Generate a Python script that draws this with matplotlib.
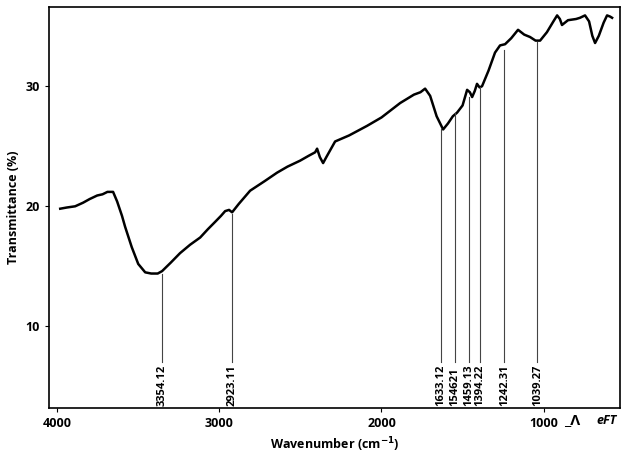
import matplotlib
matplotlib.use("Agg")
import matplotlib.pyplot as plt

plt.rcParams['font.family'] = ['Open Sans', 'DejaVu Sans']

# spectrum (wavenumber, transmittance %)
wavenumber = [3981, 3940, 3889, 3840, 3800, 3753, 3720, 3690, 3655, 3630,
              3600, 3581, 3540, 3500, 3457, 3420, 3380, 3353, 3300, 3242,
              3180, 3118, 3070, 3026, 2990, 2964, 2940, 2921, 2880, 2810,
              2720, 2644, 2580, 2502, 2450, 2409, 2397, 2380, 2360, 2340,
              2286, 2200, 2089, 2000, 1885, 1800, 1760, 1731, 1700, 1660,
              1620, 1590, 1560, 1534, 1500, 1472, 1455, 1441, 1425, 1411,
              1395, 1380, 1340, 1300, 1269, 1238, 1200, 1158, 1120, 1084,
              1050, 1022, 980, 940, 917, 900, 887, 850, 800, 776,
              745, 720, 700, 683, 660, 630, 609, 590, 578]
transmittance = [19.8, 19.9, 20.0, 20.3, 20.6, 20.9, 21.0, 21.2, 21.2, 20.4,
                 19.2, 18.3, 16.6, 15.2, 14.5, 14.4, 14.4, 14.6, 15.3, 16.1,
                 16.8, 17.4, 18.1, 18.7, 19.2, 19.6, 19.7, 19.5, 20.2, 21.3,
                 22.1, 22.8, 23.3, 23.8, 24.2, 24.5, 24.8, 24.1, 23.6, 24.1,
                 25.4, 25.9, 26.7, 27.4, 28.6, 29.3, 29.5, 29.8, 29.2, 27.5,
                 26.4, 26.9, 27.5, 27.8, 28.4, 29.7, 29.5, 29.1, 29.6, 30.2,
                 29.9, 30.0, 31.3, 32.8, 33.4, 33.5, 34.0, 34.7, 34.3, 34.1,
                 33.8, 33.8, 34.5, 35.4, 35.9, 35.6, 35.1, 35.5, 35.6, 35.7,
                 35.9, 35.4, 34.2, 33.6, 34.2, 35.3, 35.9, 35.8, 35.7]

peak_pos = [3354.12, 2923.11, 1633.12, 1546.21, 1459.13, 1394.22, 1242.31, 1039.27]
peak_labels = ['3354.12', '2923.11', '1633.12', '154621', '1459.13', '1394.22',
               '1242.31', '1039.27']
peak_top = [14.4, 19.4, 26.4, 27.75, 29.1, 29.9, 33.0, 33.7]

fig = plt.figure(figsize=(6.23, 4.54), dpi=100)
ax = fig.add_axes([0.0787, 0.1013, 0.9163, 0.8833])

ax.plot(wavenumber, transmittance, color='black', lw=1.8)

for p, lab, top in zip(peak_pos, peak_labels, peak_top):
    ax.plot([p, p], [7.0, top], color='#444444', lw=0.8)
    ax.text(p, 3.35, lab, rotation=90, ha='center', va='bottom',
            fontsize=8, fontweight='bold')

ax.set_xlim(4050, 530)
ax.set_ylim(3.2, 36.6)
ax.set_xticks([4000, 3000, 2000, 1000])
ax.set_yticks([10, 20, 30])
ax.tick_params(labelsize=9, length=3, width=0.8)
for t in ax.get_xticklabels() + ax.get_yticklabels():
    t.set_fontweight('bold')
for s in ax.spines.values():
    s.set_linewidth(1.2)

ax.set_xlabel('Wavenumber (cm$^{\\mathbf{-1}}$)', fontsize=9, fontweight='bold')
ax.set_ylabel('Transmittance (%)', fontsize=9, fontweight='bold')

# instrument logo, bottom right
fig.text(0.906, 0.074, '_\u039b', fontsize=11, fontweight='bold', va='center')
fig.text(0.957, 0.074, 'eFT', fontsize=9, fontweight='bold', style='italic',
         va='center')

fig.savefig('out.png', dpi=100)
